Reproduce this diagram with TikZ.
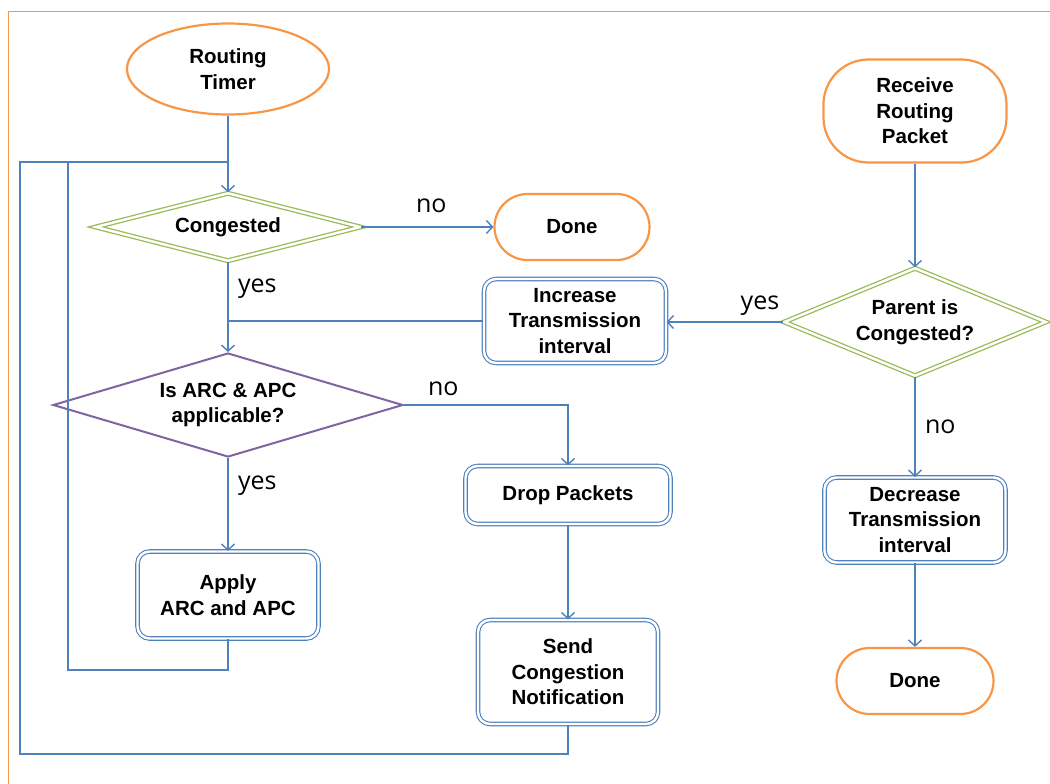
\documentclass[tikz,border=0pt]{standalone}
\usepackage{fontspec}
\setmainfont{Liberation Sans}
\newfontfamily\labelfont{Open Sans}
\usetikzlibrary{shapes.geometric,arrows.meta}

\definecolor{termorange}{HTML}{F79646}
\definecolor{flowblue}{HTML}{4F81BD}
\definecolor{decgreen}{HTML}{9BBB59}
\definecolor{decpurple}{HTML}{8064A2}

\begin{document}
\begin{tikzpicture}[x=1pt,y=-1pt,
  nodefont/.style={font=\fontsize{20.5}{25.5}\selectfont\bfseries},
  flow/.style={draw=flowblue, line width=1.4pt},
  arr/.style={flow, -{Straight Barb[length=6pt,width=13pt,line width=1.4pt]}},
  terminal/.style={draw=termorange, line width=2.2pt, rectangle, rounded corners=33pt,
    align=center, nodefont, inner sep=0pt},
  procbox/.style={draw=flowblue, line width=1.1pt, double=white, double distance=2.4pt,
    rectangle, rounded corners=12pt, align=center, nodefont, inner sep=0pt},
  greendec/.style={diamond, draw=decgreen, line width=1.3pt, double=white, double distance=2.4pt,
    align=center, nodefont, inner sep=0pt},
  purpledec/.style={diamond, draw=decpurple, line width=2pt, align=center, nodefont, inner sep=0pt},
  branch/.style={font=\labelfont\fontsize{25}{28}\selectfont}
]
\useasboundingbox (0,0) rectangle (1050,784);

% outer frame
\draw[termorange, line width=0.9pt] (8,800) -- (8,11) -- (1060,11);

% left column
\node[ellipse, draw=termorange, line width=2.2pt, minimum width=202pt, minimum height=91pt,
  align=center, nodefont, inner sep=0pt] (rt) at (228,69) {Routing\\Timer};
\node[greendec, aspect=3.9, minimum width=265pt, minimum height=68pt] (cong) at (228,227) {Congested};
\node[terminal, minimum width=155pt, minimum height=66pt] (done1) at (572,227) {Done};
\node[purpledec, aspect=3.37, minimum width=350pt, minimum height=104pt] (arc) at (228,405) {Is ARC \& APC\\applicable?};
\node[procbox, minimum width=181pt, minimum height=87pt] (apply) at (228,595) {Apply\\ARC and APC};

% middle column
\node[procbox, minimum width=182pt, minimum height=84pt] (inc) at (575,321) {Increase\\Transmission\\interval};
\node[procbox, minimum width=205pt, minimum height=58pt] (drop) at (568,495) {Drop Packets};
\node[procbox, minimum width=180pt, minimum height=104pt] (send) at (568,672) {Send\\Congestion\\Notification};

% right column
\node[terminal, rounded corners=45pt, minimum width=183pt, minimum height=103pt] (rrp) at (915,111) {Receive\\Routing\\Packet};
\node[greendec, aspect=2.43, minimum width=262pt, minimum height=108pt] (par) at (915,322) {Parent is\\Congested?};
\node[procbox, minimum width=181pt, minimum height=85pt] (dec) at (915,520) {Decrease\\Transmission\\interval};
\node[terminal, minimum width=157pt, minimum height=66pt] (done2) at (915,681) {Done};

% junction points of the loop-back lines
\coordinate (join) at (228,162);
\coordinate (innerL) at (68,670);
\coordinate (outerL) at (20,754);

% connectors
\draw[arr] (rt.south) -- (cong.north);
\draw[arr] (cong.east) -- node[branch, above=10pt, pos=0.53] (lno1) {no} (done1.west);
\draw[arr] (cong.south) -- node[branch, right=6pt, pos=0.3] (lyes1) {yes} (arc.north);
\draw[flow] (inc.west) -- (inc.west -| arc.north);
\draw[arr] (par.west) -- node[branch, above=2pt, pos=0.2] (lyes2) {yes} (par.west -| inc.east);
\draw[arr] (rrp.south) -- (par.north);
\draw[arr] (par.south) -- node[branch, right=6pt, pos=0.5] (lno3) {no} (dec.north);
\draw[arr] (dec.south) -- (done2.north);
\draw[arr] (arc.east) -| node[branch, above=5pt, pos=0.12] (lno2) {no} (drop.north);
\draw[arr] (drop.south) -- (send.north);
\draw[arr] (arc.south) -- node[branch, right=6pt, pos=0.3] (lyes3) {yes} (apply.north);

% loops back to the Congested test
\draw[flow] (apply.south) |- (innerL) |- (join);
\draw[flow] (send.south) |- (outerL) |- (join);
\end{tikzpicture}
\end{document}
